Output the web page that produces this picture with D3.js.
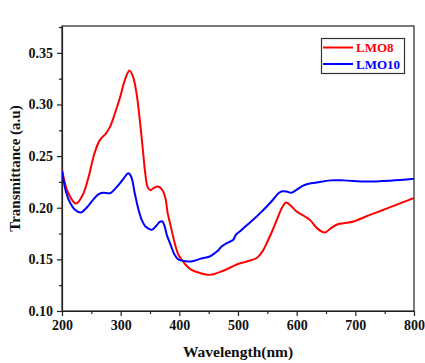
<!DOCTYPE html>
<html>
<head>
<meta charset="utf-8">
<script src="https://cdn.jsdelivr.net/npm/d3@7"></script>
<style>
  html, body { margin: 0; padding: 0; background: #fff; }
  svg { display: block; }
  text { font-family: "Liberation Serif", "Times New Roman", serif; font-weight: bold; }
</style>
</head>
<body>
<svg id="chart" width="425" height="363"></svg>
<script>
// Wavelength (nm) and transmittance readings for each sample
const lmo8Wavelength = [200,210,224,235,245,255,264,275,282,290,298,308,315,321,327,333,338,342,346,351,356,363,370,376,380,385,392,398,404,412,420,435,452,475,498,515,532,542,549,558,566,575,582,590,600,614,623,635,648,658,668,680,697,720,748,775,800];
const lmo8Transmittance = [0.237,0.215,0.204,0.212,0.229,0.252,0.265,0.272,0.2785,0.291,0.305,0.325,0.333,0.327,0.311,0.283,0.255,0.233,0.220,0.217,0.219,0.2205,0.218,0.210,0.195,0.183,0.166,0.155,0.1496,0.144,0.140,0.1368,0.135,0.139,0.145,0.148,0.1513,0.158,0.1658,0.177,0.188,0.200,0.205,0.202,0.1963,0.1915,0.188,0.180,0.176,0.180,0.1835,0.185,0.1867,0.192,0.198,0.204,0.2095];

const lmo10Wavelength = [200,207,214,222,232,242,253,262,270,282,290,299,306,313,318,324,330,336,342,347,353,360,366,371,375,379,384,392,398,404,415,424,435,452,465,472,482,492,496,505,517,529,540,549,560,569,576,583,591,600,611,622,634,657,680,719,760,800];
const lmo10Transmittance = [0.236,0.215,0.2045,0.198,0.1954,0.200,0.2076,0.213,0.2145,0.2141,0.218,0.2238,0.229,0.2335,0.230,0.2141,0.199,0.188,0.182,0.180,0.1786,0.182,0.186,0.1867,0.182,0.173,0.1658,0.1544,0.150,0.149,0.148,0.1485,0.1505,0.1528,0.158,0.1625,0.166,0.169,0.1735,0.178,0.184,0.190,0.196,0.2012,0.208,0.2141,0.216,0.2157,0.2145,0.2175,0.2215,0.2235,0.2244,0.2265,0.2265,0.2253,0.2262,0.228];

const seriesNames = ["LMO8", "LMO10"];
const seriesColors = ["#ff0000", "#0000ff"];

const xTicks = [200, 300, 400, 500, 600, 700, 800];
const yTicks = [0.10, 0.15, 0.20, 0.25, 0.30, 0.35];

const margin = { left: 62, top: 26, right: 11, bottom: 52 };
const width = 425, height = 363;

const svg = d3.select("#chart");

const x = d3.scaleLinear().domain([200, 800]).range([margin.left, width - margin.right]);
const y = d3.scaleLinear().domain([0.10, 0.376]).range([height - margin.bottom, margin.top]);

const axisColor = "#222";

// Frame (top and right edges)
svg.append("rect")
  .attr("x", x(200)).attr("y", y(0.376))
  .attr("width", x(800) - x(200)).attr("height", y(0.10) - y(0.376))
  .attr("fill", "none").attr("stroke", axisColor).attr("stroke-width", 1.2);

// Minor ticks
const xMinor = d3.range(250, 800, 100);
const yMinor = d3.range(0.125, 0.376, 0.05);

const xAxisMinor = svg.append("g")
  .attr("transform", `translate(0,${y(0.10)})`)
  .call(d3.axisBottom(x).tickValues(xMinor).tickSize(3).tickFormat(""));
xAxisMinor.select(".domain").remove();
xAxisMinor.selectAll("line").attr("stroke", axisColor).attr("stroke-width", 1.2);

const yAxisMinor = svg.append("g")
  .attr("transform", `translate(${x(200)},0)`)
  .call(d3.axisLeft(y).tickValues(yMinor).tickSize(3).tickFormat(""));
yAxisMinor.select(".domain").remove();
yAxisMinor.selectAll("line").attr("stroke", axisColor).attr("stroke-width", 1.2);

// Major axes
const xAxis = svg.append("g")
  .attr("transform", `translate(0,${y(0.10)})`)
  .call(d3.axisBottom(x).tickValues(xTicks).tickSize(5).tickSizeOuter(0).tickPadding(4).tickFormat(d3.format("d")));
xAxis.select(".domain").attr("stroke", axisColor).attr("stroke-width", 1.2);
xAxis.selectAll("line").attr("stroke", axisColor).attr("stroke-width", 1.2);
xAxis.selectAll("text")
  .attr("fill", "#111")
  .style("font-size", "14px")
  .style("font-family", "'Liberation Serif', serif")
  .style("font-weight", "bold");

const yAxis = svg.append("g")
  .attr("transform", `translate(${x(200)},0)`)
  .call(d3.axisLeft(y).tickValues(yTicks).tickSize(5).tickSizeOuter(0).tickPadding(4).tickFormat(d3.format(".2f")));
yAxis.select(".domain").attr("stroke", axisColor).attr("stroke-width", 1.2);
yAxis.selectAll("line").attr("stroke", axisColor).attr("stroke-width", 1.2);
yAxis.selectAll("text")
  .attr("fill", "#111")
  .style("font-size", "14px")
  .style("font-family", "'Liberation Serif', serif")
  .style("font-weight", "bold");

// Axis titles
svg.append("text")
  .attr("x", (x(200) + x(800)) / 2).attr("y", 357)
  .attr("text-anchor", "middle")
  .attr("fill", "#111")
  .style("font-size", "15.5px")
  .text("Wavelength(nm)");

svg.append("text")
  .attr("transform", `translate(20,${(y(0.10) + y(0.376)) / 2}) rotate(-90)`)
  .attr("text-anchor", "middle")
  .attr("fill", "#111")
  .style("font-size", "15px")
  .text("Transmittance (a.u)");

// Curves
const line = d3.line()
  .x(d => x(d[0]))
  .y(d => y(d[1]))
  .curve(d3.curveCatmullRom.alpha(0.5));

const series = [
  d3.zip(lmo8Wavelength, lmo8Transmittance),
  d3.zip(lmo10Wavelength, lmo10Transmittance)
];

const clip = svg.append("clipPath").attr("id", "plot-clip")
  .append("rect")
  .attr("x", x(200)).attr("y", y(0.376))
  .attr("width", x(800) - x(200)).attr("height", y(0.10) - y(0.376));

svg.append("g").attr("clip-path", "url(#plot-clip)")
  .selectAll("path")
  .data(series)
  .join("path")
  .attr("d", line)
  .attr("fill", "none")
  .attr("stroke", (d, i) => seriesColors[i])
  .attr("stroke-width", 2)
  .attr("stroke-linejoin", "round");

// Legend
const legend = svg.append("g");
legend.append("rect")
  .attr("x", 321.5).attr("y", 38.5)
  .attr("width", 83).attr("height", 35)
  .attr("fill", "#fff").attr("stroke", "#333").attr("stroke-width", 1.2);

seriesNames.forEach((name, i) => {
  const ly = 47.5 + i * 16.5;
  legend.append("line")
    .attr("x1", 323).attr("x2", 353)
    .attr("y1", ly).attr("y2", ly)
    .attr("stroke", seriesColors[i]).attr("stroke-width", 2);
  legend.append("text")
    .attr("x", 356).attr("y", ly + 4.5)
    .attr("fill", seriesColors[i])
    .style("font-size", "13px")
    .text(name);
});
</script>
</body>
</html>
